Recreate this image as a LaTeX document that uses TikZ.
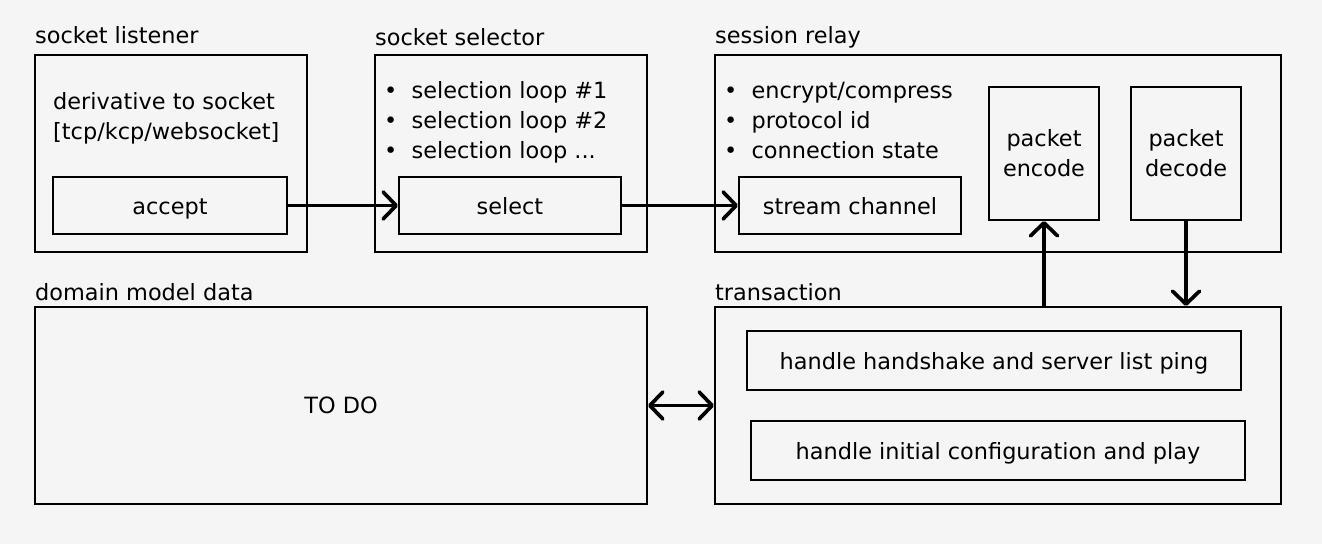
\documentclass[tikz,border=0pt]{standalone}
\usepackage{fontspec}
\setmainfont{DejaVu Sans}
\usetikzlibrary{arrows.meta,positioning}

\definecolor{bgcol}{HTML}{F5F5F5}

\tikzset{
  box/.style={draw,line width=2pt,inner sep=0pt,font=\fontsize{22.4}{30}\selectfont,align=center},
  oneline/.style={text height=20pt,text depth=2pt},
  grouptitle/.style={anchor=base west,inner sep=0pt,font=\fontsize{22.4}{30}\selectfont},
  notes/.style={anchor=base west,inner sep=0pt,align=left,font=\fontsize{22.4}{30}\selectfont},
  barb/.tip={Straight Barb[length=13pt,width=27pt,round]},
  link/.style={line width=3.7pt,-barb},
  linkboth/.style={line width=3.7pt,barb-barb},
}

\begin{document}
\begin{tikzpicture}[x=1pt,y=-1pt]

  \fill[bgcol] (0,0) rectangle (1322,544);
  \useasboundingbox (0,0) rectangle (1322,544);

  % socket listener
  \node[grouptitle] (listenertitle) at (35,43) {socket listener};
  \node[box,minimum width=272pt,minimum height=197pt] (listener) at (171,153.5) {};
  \node[notes] (listenernote) at (53,139) {derivative to socket\\{}[tcp/kcp/websocket]};
  \node[box,oneline,minimum width=234pt,minimum height=57pt] (accept) at (170,205.5) {accept};

  % socket selector
  \node[grouptitle] (selectortitle) at (375,45) {socket selector};
  \node[box,minimum width=272pt,minimum height=197pt] (selector) at (511,153.5) {};
  \node[notes] (selectornote) at (384,158) {\textbullet\ \ selection loop \#1\\
    \textbullet\ \ selection loop \#2\\
    \textbullet\ \ selection loop ...};
  \node[box,oneline,minimum width=222pt,minimum height=57pt] (select) at (510,205.5) {select};

  % session relay
  \node[grouptitle] (relaytitle) at (715,43) {session relay};
  \node[box,minimum width=566pt,minimum height=197pt] (relay) at (998,153.5) {};
  \node[notes] (relaynote) at (724,158) {\textbullet\ \ encrypt/compress\\
    \textbullet\ \ protocol id\\
    \textbullet\ \ connection state};
  \node[box,oneline,minimum width=222pt,minimum height=57pt] (stream) at (850,205.5) {stream channel};
  \node[box,minimum width=110pt,minimum height=133pt] (encode) at (1044,153.5) {packet\\encode};
  \node[box,minimum width=110pt,minimum height=133pt] (decode) at (1186,153.5) {packet\\decode};

  % domain model data
  \node[grouptitle] (domaintitle) at (35,300) {domain model data};
  \node[box,minimum width=612pt,minimum height=197pt] (domain) at (341,405.5) {TO DO};

  % transaction
  \node[grouptitle] (transactiontitle) at (715,300) {transaction};
  \node[box,minimum width=566pt,minimum height=197pt] (transaction) at (998,405.5) {};
  \node[box,oneline,minimum width=494pt,minimum height=59pt] (handshake) at (994,360.5) {handle handshake and server list ping};
  \node[box,oneline,minimum width=494pt,minimum height=59pt] (play) at (998,450.5) {handle initial configuration and play};

  % connectors
  \draw[link] (accept) -- (select);
  \draw[link] (select) -- (stream);
  \draw[link] (transaction.north -| encode.south) -- (encode.south);
  \draw[link] (decode.south) -- (decode.south |- transaction.north);
  \draw[linkboth] (domain) -- (transaction);

\end{tikzpicture}
\end{document}
